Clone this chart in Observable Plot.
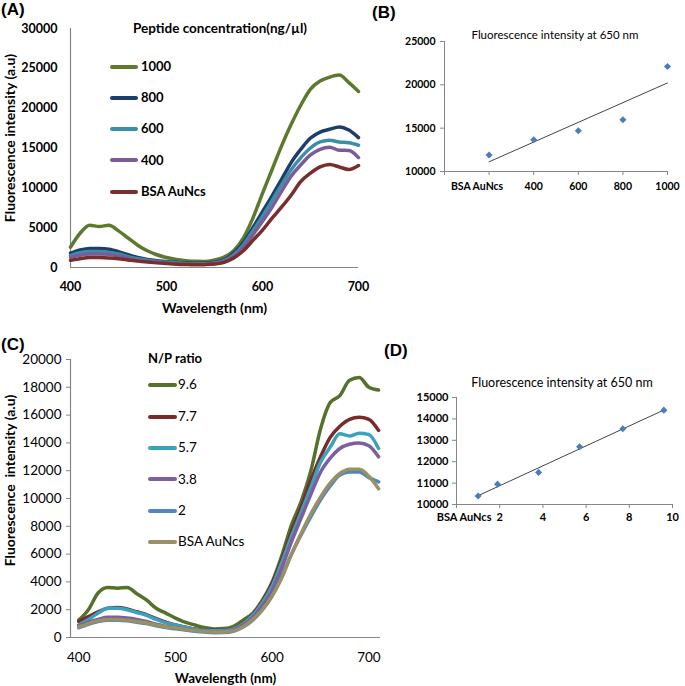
<!DOCTYPE html>
<html><head><meta charset="utf-8">
<script src="https://cdn.jsdelivr.net/npm/d3@7"></script>
<script src="https://cdn.jsdelivr.net/npm/@observablehq/plot@0.6"></script>
<style>
body{margin:0;background:#fff;}
#root{position:relative;width:685px;height:686px;overflow:hidden;font-family:Lato,"Open Sans",sans-serif;background:#fff;}
.abs{position:absolute;white-space:nowrap;line-height:1;}
.plab{font-family:"Liberation Sans",Arial,sans-serif;font-weight:bold;font-size:17px;}
.pl{position:absolute;}
.leg{position:absolute;display:flex;align-items:center;white-space:nowrap;height:16px;line-height:1;}
.sw{display:inline-block;height:4px;border-radius:2px;margin-right:3px;}
</style></head><body><div id="root"></div>
<script>
// ---------- Panel A: peptide concentration spectra ----------
const wavelengthA = [400,410,420,430,440,450,460,470,480,490,500,510,520,530,540,550,560,570,580,590,600,610,620,630,640,650,660,670,680,690,700];
const seriesNamesA = ["1000","800","600","400","BSA AuNcs"];
const pep1000 = [2550,4300,5300,5150,5300,4600,3700,2800,2100,1600,1250,1000,850,770,760,950,1300,2100,3700,6200,9300,12300,15300,18000,20400,22400,23400,23900,24150,23200,22100];
const pep800  = [1800,2200,2400,2400,2300,2000,1600,1250,1000,850,750,650,550,530,550,650,950,1800,3100,5000,7000,9000,11100,13200,14850,16250,17000,17350,17650,17250,16300];
const pep600  = [1500,1850,2000,2000,1900,1700,1350,1100,900,750,650,550,480,450,470,560,850,1600,2800,4600,6400,8400,10400,12300,13800,15000,15760,15970,15760,15650,15350];
const pep400  = [1300,1550,1700,1700,1650,1450,1200,950,800,680,580,500,430,400,420,500,780,1400,2500,4100,5800,7600,9600,11500,12900,14150,14840,15100,14720,14700,13800];
const pepBSA  = [900,1100,1250,1250,1200,1100,950,800,680,580,500,420,370,340,360,430,650,1200,2100,3400,4700,6200,7600,9100,10800,11850,12620,12920,12620,12300,12800];
const valuesA = [pep1000,pep800,pep600,pep400,pepBSA];
const colorsA = ["#5B7A2E","#1F3D6B","#3A8FA8","#7A5C98","#782E2C"];
const xTicksA = [400,500,600,700];
const yTicksA = [0,5000,10000,15000,20000,25000,30000];

// ---------- Panel B: intensity at 650 nm vs concentration ----------
const concX = [200,400,600,800,1000];
const concLabels = ["BSA AuNcs","400","600","800","1000"];
const intensityB = [11900,13660,14700,15970,22120];
const yTicksB = [10000,15000,20000,25000];

// ---------- Panel C: N/P ratio spectra ----------
const wavelengthC = [400,410,420,430,440,450,460,470,480,490,500,510,520,530,540,550,560,570,580,590,600,610,620,630,640,650,660,670,680,690,700,710];
const seriesNamesC = ["9.6","7.7","5.7","3.8","2","BSA AuNcs"];
const np96  = [1250,2000,3200,3600,3550,3600,3150,2700,2100,1750,1400,1100,900,720,620,640,800,1250,1750,2700,4000,5900,8100,9800,12000,15000,16900,17400,18500,18700,18000,17800];
const np77  = [1150,1500,1850,2100,2150,2050,1850,1650,1350,1100,900,750,620,550,520,530,650,1050,1650,2600,3900,5600,7600,9400,11300,13000,14400,15200,15700,15850,15700,14900];
const np57  = [900,1300,1750,2100,2100,2000,1800,1600,1300,1050,880,730,600,520,490,500,620,1000,1600,2500,3700,5400,7300,9000,10800,12600,13700,14650,14500,14700,14600,13600];
const np38  = [850,1100,1300,1450,1450,1400,1300,1150,950,800,700,600,520,450,420,430,550,900,1450,2300,3400,5000,6900,8600,10300,11900,12900,13600,13900,14000,13800,13000];
const np2   = [700,950,1150,1250,1250,1200,1100,1000,850,720,620,530,450,390,350,360,450,750,1250,2000,3000,4400,6000,7400,8700,9900,10900,11700,11900,11900,11500,11200];
const npBSA = [750,1000,1200,1300,1300,1250,1150,1050,900,780,680,580,500,430,390,400,480,780,1300,2000,3000,4300,6000,7500,8900,10100,11100,11800,12100,12100,11600,10700];
const valuesC = [np96,np77,np57,np38,np2,npBSA];
const colorsC = ["#56712B","#772B2A","#3AA3BC","#7D5FA0","#4F86C6","#9A9060"];
const xDomainC = [391.5,712];
const xTicksC = [400,500,600,700];
const yTicksC = [0,2000,4000,6000,8000,10000,12000,14000,16000,18000,20000];

// ---------- Panel D: intensity at 650 nm vs N/P ----------
const npX = [1,1.9,3.8,5.7,7.7,9.6];
const intensityD = [10400,10950,11500,12700,13540,14410];
const xTicksD = [0,2,4,6,8,10];
const yTicksD = [10000,11000,12000,13000,14000,15000];

const root = document.getElementById("root");
const AX = "#868686";
const FONT = "Lato, 'Open Sans', sans-serif";
const fmt = d => String(d);

function place(el, left, top){ const d=document.createElement("div"); d.className="pl"; d.style.left=left+"px"; d.style.top=top+"px"; d.appendChild(el); root.appendChild(d); }
function label(txt, left, top, css){ const d=document.createElement("div"); d.className="abs"; d.textContent=txt; d.style.left=left+"px"; d.style.top=top+"px"; if(css) d.style.cssText+=css; root.appendChild(d); return d; }

// Panel A
const tidyA = seriesNamesA.flatMap((n,i)=>wavelengthA.map((w,j)=>({wl:w,v:valuesA[i][j],s:n})));
const plotA = Plot.plot({
  width:370,height:310,marginLeft:70,marginRight:12,marginTop:28,marginBottom:43,
  style:{fontFamily:FONT,fontSize:"12.5px",background:"transparent",overflow:"visible"},
  x:{domain:[xTicksA[0],xTicksA[xTicksA.length-1]]},
  y:{domain:[yTicksA[0],yTicksA[yTicksA.length-1]]},
  color:{domain:seriesNamesA,range:colorsA},
  marks:[
    Plot.ruleY([yTicksA[0]],{stroke:AX,strokeWidth:1.2}),
    Plot.ruleX([xTicksA[0]],{stroke:AX,strokeWidth:1.2}),
    Plot.axisX({ticks:xTicksA,tickSize:0,tickPadding:15,fontWeight:"bold",tickFormat:fmt,label:null}),
    Plot.axisY({ticks:yTicksA,tickSize:0,tickPadding:13,fontWeight:"bold",tickFormat:fmt,label:null}),
    Plot.line(tidyA,{x:"wl",y:"v",z:"s",stroke:"s",strokeWidth:3.5,curve:"monotone-x",strokeLinejoin:"round"}),
    Plot.text(["Wavelength (nm)"],{frameAnchor:"bottom",dy:41,lineAnchor:"middle",textAnchor:"middle",fontWeight:"bold",fontSize:14}),
    Plot.text(["Fluorescence intensity (a.u)"],{frameAnchor:"left",dx:-60,dy:-10,rotate:-90,textAnchor:"middle",lineAnchor:"middle",fontWeight:"bold",fontSize:14})
  ]
});
place(plotA,0,0);

// Panel B
const dataB = concX.map((x,i)=>({x,y:intensityB[i],lab:concLabels[i]}));
const plotB = Plot.plot({
  width:305,height:200,marginLeft:64,marginRight:18,marginTop:41,marginBottom:29,
  style:{fontFamily:FONT,fontSize:"10.5px",background:"transparent",overflow:"visible"},
  x:{domain:[0,concX[concX.length-1]]},
  y:{domain:[yTicksB[0],yTicksB[yTicksB.length-1]]},
  marks:[
    Plot.ruleY([yTicksB[0]],{stroke:AX}),
    Plot.ruleX([0],{stroke:AX}),
    Plot.axisX({ticks:[0,...concX],tickSize:4,tickFormat:()=>"",stroke:AX,label:null}),
    Plot.axisX({ticks:concX.slice(1),tickSize:0,tickPadding:11.5,fontWeight:"bold",tickFormat:d=>concLabels[concX.indexOf(d)],label:null}),
    Plot.axisX({ticks:concX.slice(0,1),tickSize:0,tickPadding:11.5,dx:-12,fontWeight:"bold",tickFormat:d=>concLabels[concX.indexOf(d)],label:null}),
    Plot.axisY({ticks:yTicksB,tickSize:4,tickFormat:()=>"",stroke:AX,label:null}),
    Plot.axisY({ticks:yTicksB,tickSize:0,tickPadding:9,fontWeight:"bold",tickFormat:fmt,label:null}),
    Plot.linearRegressionY(dataB,{x:"x",y:"y",ci:0,stroke:"#444",strokeWidth:1}),
    Plot.dot(dataB,{x:"x",y:"y",symbol:"diamond2",r:3.2,fill:"#4A7EBB",stroke:"none"})
  ]
});
place(plotB,380,0);

// Panel C
const tidyC = seriesNamesC.flatMap((n,i)=>wavelengthC.map((w,j)=>({wl:w,v:valuesC[i][j],s:n})));
const plotC = Plot.plot({
  width:385,height:356,marginLeft:70,marginRight:5,marginTop:29,marginBottom:49,
  style:{fontFamily:FONT,fontSize:"13.5px",background:"transparent",overflow:"visible"},
  x:{domain:xDomainC},
  y:{domain:[yTicksC[0],yTicksC[yTicksC.length-1]]},
  color:{domain:seriesNamesC,range:colorsC},
  marks:[
    Plot.ruleY([yTicksC[0]],{stroke:AX,strokeWidth:1.2}),
    Plot.ruleX([xDomainC[0]],{stroke:AX,strokeWidth:1.2}),
    Plot.axisX({ticks:xTicksC,tickSize:0,tickPadding:14.5,tickFormat:fmt,label:null}),
    Plot.axisY({ticks:yTicksC,tickSize:4,tickFormat:()=>"",stroke:AX,label:null}),
    Plot.axisY({ticks:yTicksC,tickSize:0,tickPadding:9,tickFormat:fmt,label:null}),
    Plot.line(tidyC,{x:"wl",y:"v",z:"s",stroke:"s",strokeWidth:3.5,curve:"monotone-x",strokeLinejoin:"round"}),
    Plot.text(["Wavelength (nm)"],{frameAnchor:"bottom",dy:41,lineAnchor:"middle",textAnchor:"middle",fontWeight:"bold",fontSize:13.5}),
    Plot.text(["Fluorescence\u00a0 intensity (a.u)"],{frameAnchor:"left",dx:-60,dy:-18,rotate:-90,textAnchor:"middle",lineAnchor:"middle",fontWeight:"bold",fontSize:14})
  ]
});
place(plotC,0,330);

// Panel D
const dataD = npX.map((x,i)=>({x,y:intensityD[i]}));
const plotD = Plot.plot({
  width:305,height:170,marginLeft:76,marginRight:13,marginTop:27,marginBottom:36,
  style:{fontFamily:FONT,fontSize:"11px",background:"transparent",overflow:"visible"},
  x:{domain:[xTicksD[0],xTicksD[xTicksD.length-1]]},
  y:{domain:[yTicksD[0],yTicksD[yTicksD.length-1]]},
  marks:[
    Plot.ruleY([yTicksD[0]],{stroke:AX}),
    Plot.ruleX([xTicksD[0]],{stroke:AX}),
    Plot.axisX({ticks:xTicksD,tickSize:4,tickFormat:()=>"",stroke:AX,label:null}),
    Plot.axisX({ticks:xTicksD.slice(1),tickSize:0,tickPadding:9,fontWeight:"bold",tickFormat:fmt,label:null}),
    Plot.axisX({ticks:npX.slice(0,1),tickSize:0,tickPadding:9,dx:-14,fontWeight:"bold",tickFormat:()=>"BSA AuNcs",label:null}),
    Plot.axisY({ticks:yTicksD,tickSize:4,tickFormat:()=>"",stroke:AX,label:null}),
    Plot.axisY({ticks:yTicksD,tickSize:0,tickPadding:8,fontWeight:"bold",tickFormat:fmt,label:null}),
    Plot.linearRegressionY(dataD,{x:"x",y:"y",ci:0,stroke:"#444",strokeWidth:1}),
    Plot.dot(dataD,{x:"x",y:"y",symbol:"diamond2",r:3.2,fill:"#4A7EBB",stroke:"none"})
  ]
});
place(plotD,380,370);

// Panel letters
label("(A)",1,1).className+=" plab";
label("(B)",372,4).className+=" plab";
label("(C)",1,336).className+=" plab";
label("(D)",384,342).className+=" plab";

// Titles of B and D
label("Fluorescence intensity at 650 nm",555,29,"transform:translateX(-50%);font-size:11.5px;");
label("Fluorescence intensity at 650 nm",562,377,"transform:translateX(-50%);font-size:12.5px;");

// Legend A
label("Peptide concentration(ng/µl)",133,22,"font-weight:bold;font-size:13.5px;");
const legYA=[66.7,97.7,128.7,160,191.7];
seriesNamesA.forEach((n,i)=>{
  const d=document.createElement("div"); d.className="leg";
  d.style.left="110px"; d.style.top=(legYA[i]-8)+"px";
  d.innerHTML=`<span class="sw" style="width:28px;background:${colorsA[i]}"></span><span style="font-weight:bold;font-size:13px">${n}</span>`;
  root.appendChild(d);
});
// Legend C
label("N/P ratio",148,352,"font-weight:bold;font-size:13px;");
const legYC=[385,416.7,447.7,479.3,510.7,541.7];
seriesNamesC.forEach((n,i)=>{
  const d=document.createElement("div"); d.className="leg";
  d.style.left="148px"; d.style.top=(legYC[i]-8)+"px";
  d.innerHTML=`<span class="sw" style="width:29px;margin-right:1px;background:${colorsC[i]}"></span><span style="font-size:13.5px">${n}</span>`;
  root.appendChild(d);
});
</script></body></html>
